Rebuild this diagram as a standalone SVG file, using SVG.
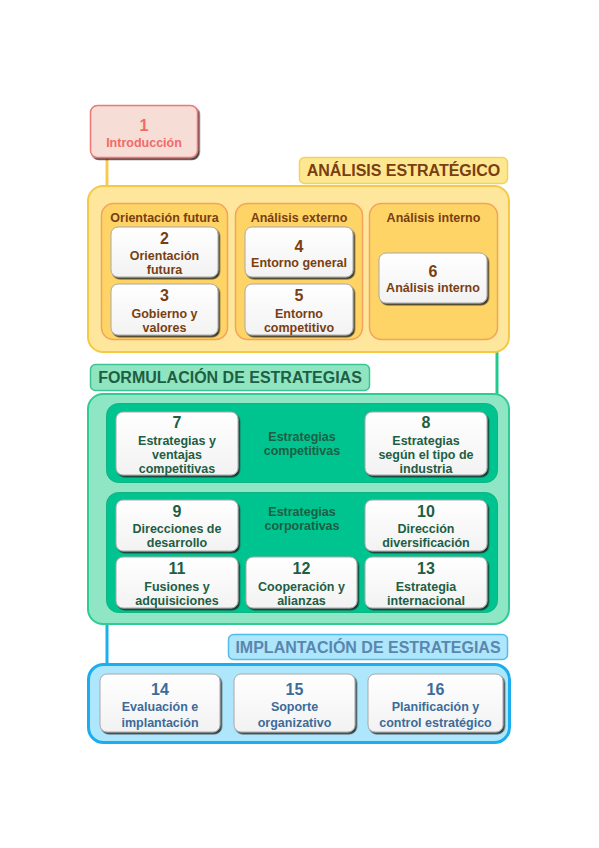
<svg xmlns="http://www.w3.org/2000/svg" width="599" height="848" viewBox="0 0 599 848">
<defs>
<filter id="sh" x="-10%" y="-10%" width="125%" height="130%">
<feDropShadow dx="1.5" dy="1.8" stdDeviation="0.7" flood-color="#222222" flood-opacity="0.85"/>
</filter>
<linearGradient id="wg" x1="0" y1="0" x2="0" y2="1">
<stop offset="0" stop-color="#ffffff"/>
<stop offset="1" stop-color="#f2f2f2"/>
</linearGradient>
<style>
text{font-family:"Liberation Sans",Arial,sans-serif;font-weight:bold;text-anchor:middle}
.num{font-size:16px}
.lab{font-size:12.5px}
.sec{font-size:16px}
.wb{fill:url(#wg);stroke:#a8a8a8;stroke-width:1;filter:url(#sh)}
.y text{fill:#7a3e12}
.g text{fill:#1e5e44}
.b text{fill:#3d6b9a}
</style>
</defs>
<rect width="599" height="848" fill="#ffffff"/>

<g id="connectors" fill="none" stroke-width="3">
<line x1="107" y1="156" x2="107" y2="188" stroke="#f5cc50"/>
<line x1="497" y1="350" x2="497" y2="395" stroke="#22c98f"/>
<line x1="107" y1="622" x2="107" y2="665" stroke="#1ab0f0"/>
</g>

<g id="n1">
<rect x="90.5" y="105.5" width="107" height="52" rx="7" fill="#f6ddd5" stroke="#ee7777" stroke-width="1.5" filter="url(#sh)"/>
<text class="num" x="144" y="131" fill="#f26a6a">1</text>
<text class="lab" x="144" y="146.5" fill="#f26a6a">Introducción</text>
</g>

<g id="sec-analisis" class="y">
<rect x="299.5" y="157.5" width="208" height="26" rx="5" fill="#fde891" stroke="#f3d25c" stroke-width="1.5"/>
<text class="sec" x="403.5" y="176">ANÁLISIS ESTRATÉGICO</text>
</g>

<g id="analisis" class="y">
<rect x="88" y="186" width="421" height="166" rx="15" fill="#fee69c" stroke="#f5c845" stroke-width="2"/>
<rect x="101.5" y="203.5" width="126" height="136" rx="12" fill="#fdd465" stroke="#f5a25c" stroke-width="1.5"/>
<rect x="235.5" y="203.5" width="127" height="136" rx="12" fill="#fdd465" stroke="#f5a25c" stroke-width="1.5"/>
<rect x="369.5" y="203.5" width="128" height="136" rx="12" fill="#fdd465" stroke="#f5a25c" stroke-width="1.5"/>
<text class="lab" x="164.5" y="221.5">Orientación futura</text>
<text class="lab" x="299" y="221.5">Análisis externo</text>
<text class="lab" x="433.5" y="221.5">Análisis interno</text>
</g>

<g id="n2" class="y">
<rect class="wb" x="111" y="227" width="107" height="50" rx="7"/>
<text class="num" x="164.5" y="243.5">2</text>
<text class="lab" x="164.5" y="259.5">Orientación</text>
<text class="lab" x="164.5" y="273.5">futura</text>
</g>
<g id="n3" class="y">
<rect class="wb" x="111" y="284" width="107" height="51" rx="7"/>
<text class="num" x="164.5" y="300.5">3</text>
<text class="lab" x="164.5" y="317.5">Gobierno y</text>
<text class="lab" x="164.5" y="331.5">valores</text>
</g>
<g id="n4" class="y">
<rect class="wb" x="245" y="227" width="108" height="50" rx="7"/>
<text class="num" x="299" y="251.5">4</text>
<text class="lab" x="299" y="266.5">Entorno general</text>
</g>
<g id="n5" class="y">
<rect class="wb" x="245" y="284" width="108" height="51" rx="7"/>
<text class="num" x="299" y="300.5">5</text>
<text class="lab" x="299" y="317.5">Entorno</text>
<text class="lab" x="299" y="331.5">competitivo</text>
</g>
<g id="n6" class="y">
<rect class="wb" x="379" y="253" width="108" height="50" rx="7"/>
<text class="num" x="433" y="276.5">6</text>
<text class="lab" x="433" y="291.5">Análisis interno</text>
</g>

<g id="sec-formulacion" class="g">
<rect x="90.5" y="364.5" width="279" height="26" rx="5" fill="#8fe5c0" stroke="#3cc593" stroke-width="1.5"/>
<text class="sec" x="230" y="383">FORMULACIÓN DE ESTRATEGIAS</text>
</g>

<g id="formulacion" class="g">
<rect x="88" y="394" width="421" height="230" rx="15" fill="#8fe6c4" stroke="#2ecb92" stroke-width="2"/>
<rect x="106.5" y="403.5" width="391" height="79" rx="12" fill="#00c48f" stroke="#12b282" stroke-width="1"/>
<rect x="106.5" y="492.5" width="391" height="120" rx="12" fill="#00c48f" stroke="#12b282" stroke-width="1"/>
<text class="lab" x="302" y="440.5">Estrategias</text>
<text class="lab" x="302" y="455">competitivas</text>
<text class="lab" x="302" y="515.5">Estrategias</text>
<text class="lab" x="302" y="530">corporativas</text>
</g>

<g id="n7" class="g">
<rect class="wb" x="116" y="412" width="122" height="63" rx="7"/>
<text class="num" x="177" y="427.5">7</text>
<text class="lab" x="177" y="444.5">Estrategias y</text>
<text class="lab" x="177" y="458.5">ventajas</text>
<text class="lab" x="177" y="472.5">competitivas</text>
</g>
<g id="n8" class="g">
<rect class="wb" x="365" y="412" width="122" height="63" rx="7"/>
<text class="num" x="426" y="427.5">8</text>
<text class="lab" x="426" y="444.5">Estrategias</text>
<text class="lab" x="426" y="458.5">según el tipo de</text>
<text class="lab" x="426" y="472.5">industria</text>
</g>
<g id="n9" class="g">
<rect class="wb" x="116" y="500" width="122" height="51" rx="7"/>
<text class="num" x="177" y="516.5">9</text>
<text class="lab" x="177" y="532.5">Direcciones de</text>
<text class="lab" x="177" y="546.5">desarrollo</text>
</g>
<g id="n10" class="g">
<rect class="wb" x="365" y="500" width="122" height="51" rx="7"/>
<text class="num" x="426" y="516.5">10</text>
<text class="lab" x="426" y="532.5">Dirección</text>
<text class="lab" x="426" y="546.5">diversificación</text>
</g>
<g id="n11" class="g">
<rect class="wb" x="116" y="557" width="122" height="51" rx="7"/>
<text class="num" x="177" y="573.5">11</text>
<text class="lab" x="177" y="590.5">Fusiones y</text>
<text class="lab" x="177" y="604.5">adquisiciones</text>
</g>
<g id="n12" class="g">
<rect class="wb" x="246" y="557" width="111" height="51" rx="7"/>
<text class="num" x="301.5" y="573.5">12</text>
<text class="lab" x="301.5" y="590.5">Cooperación y</text>
<text class="lab" x="301.5" y="604.5">alianzas</text>
</g>
<g id="n13" class="g">
<rect class="wb" x="365" y="557" width="122" height="51" rx="7"/>
<text class="num" x="426" y="573.5">13</text>
<text class="lab" x="426" y="590.5">Estrategia</text>
<text class="lab" x="426" y="604.5">internacional</text>
</g>

<g id="sec-implantacion">
<rect x="228.5" y="634.5" width="279" height="25" rx="5" fill="#aee6fb" stroke="#52bdea" stroke-width="1.5"/>
<text class="sec" x="368" y="653" fill="#5a86b0">IMPLANTACIÓN DE ESTRATEGIAS</text>
</g>

<g id="implantacion">
<rect x="88.5" y="664.5" width="421" height="78" rx="15" fill="#aee6fb" stroke="#1aaeee" stroke-width="3"/>
</g>

<g id="n14" class="b">
<rect class="wb" x="100" y="674" width="120" height="58" rx="7"/>
<text class="num" x="160" y="694.5">14</text>
<text class="lab" x="160" y="710.5">Evaluación e</text>
<text class="lab" x="160" y="726.5">implantación</text>
</g>
<g id="n15" class="b">
<rect class="wb" x="234" y="674" width="121" height="58" rx="7"/>
<text class="num" x="294.5" y="694.5">15</text>
<text class="lab" x="294.5" y="710.5">Soporte</text>
<text class="lab" x="294.5" y="726.5">organizativo</text>
</g>
<g id="n16" class="b">
<rect class="wb" x="368" y="674" width="135" height="58" rx="7"/>
<text class="num" x="435.5" y="694.5">16</text>
<text class="lab" x="435.5" y="710.5">Planificación y</text>
<text class="lab" x="435.5" y="726.5">control estratégico</text>
</g>
</svg>
